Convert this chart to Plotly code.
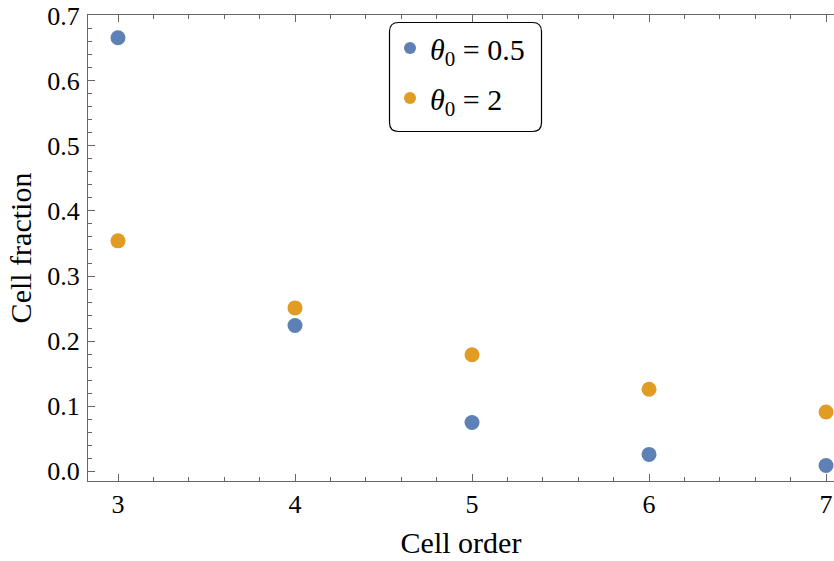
import plotly.graph_objects as go

cell_order = [3, 4, 5, 6, 7]
frac_theta_05 = [0.666, 0.224, 0.075, 0.026, 0.009]
frac_theta_2 = [0.354, 0.251, 0.179, 0.126, 0.091]
series_names = ["<i>θ</i><sub>0</sub> = 0.5", "<i>θ</i><sub>0</sub> = 2"]
colors = ["#5E81B5", "#E19C24"]

W, H = 834, 561
ML, MR, MT, MB = 88, 0, 15, 80
PW, PH = W - ML - MR, H - MT - MB

FONT = "Liberation Serif, Times New Roman, serif"

fig = go.Figure()
for i, ys in enumerate([frac_theta_05, frac_theta_2]):
    fig.add_trace(go.Scatter(
        x=cell_order, y=ys, mode="markers", name=series_names[i],
        legendgroup=f"g{i}",
        marker=dict(color=colors[i], size=15, line=dict(width=0)),
        cliponaxis=False,
    ))

def px2paper(px, py):
    return (px - ML) / PW, (H - MB - py) / PH

# rounded legend box
x0, y0, x1, y1, r = 389.5, 22.5, 541.5, 131.5, 9
def P(px, py):
    a, b = px2paper(px, py)
    return f"{a:.5f},{b:.5f}"
path = (f"M {P(x0 + r, y0)} L {P(x1 - r, y0)} Q {P(x1, y0)} {P(x1, y0 + r)} "
        f"L {P(x1, y1 - r)} Q {P(x1, y1)} {P(x1 - r, y1)} "
        f"L {P(x0 + r, y1)} Q {P(x0, y1)} {P(x0, y1 - r)} "
        f"L {P(x0, y0 + r)} Q {P(x0, y0)} {P(x0 + r, y0)} Z")
fig.add_shape(type="path", path=path, xref="paper", yref="paper",
              line=dict(color="black", width=1.2), fillcolor="white", layer="below")

lx, ly = px2paper(390, 22)
axis_common = dict(
    showgrid=False, zeroline=False, showline=True, linecolor="#666666", linewidth=1,
    ticks="inside", tickcolor="#666666", tickwidth=1, ticklen=7,
    tickfont=dict(family=FONT, size=26, color="black"),
    automargin=False, ticklabeloverflow="allow",
)
fig.update_layout(
    width=W, height=H,
    margin=dict(l=ML, r=MR, t=MT, b=MB, autoexpand=False),
    paper_bgcolor="white", plot_bgcolor="white",
    showlegend=True,
    legend=dict(x=lx, y=ly, xanchor="left", yanchor="top",
                bgcolor="rgba(0,0,0,0)", borderwidth=0,
                font=dict(family=FONT, size=30, color="black"),
                itemsizing="constant", tracegroupgap=8),
    xaxis=dict(axis_common, range=[2.8305, 7.045], dtick=1, tick0=3, mirror="ticks",
               minor=dict(dtick=0.2, tick0=3, ticks="inside", ticklen=4,
                          tickcolor="#666666", showgrid=False),
               title=dict(text="Cell order", font=dict(family=FONT, size=30, color="black"),
                          standoff=13)),
    yaxis=dict(axis_common, range=[-0.0149, 0.701], dtick=0.1, tick0=0, tickformat=".1f",
               minor=dict(dtick=0.02, tick0=0, ticks="inside", ticklen=4,
                          tickcolor="#666666", showgrid=False),
               ticklabelstandoff=2,
               title=dict(text="Cell fraction", font=dict(family=FONT, size=30, color="black"),
                          standoff=6)),
)
fig.write_html("out.html", config={"displayModeBar": False},
               post_script="document.body.style.margin='0';document.body.style.overflow='hidden';")
